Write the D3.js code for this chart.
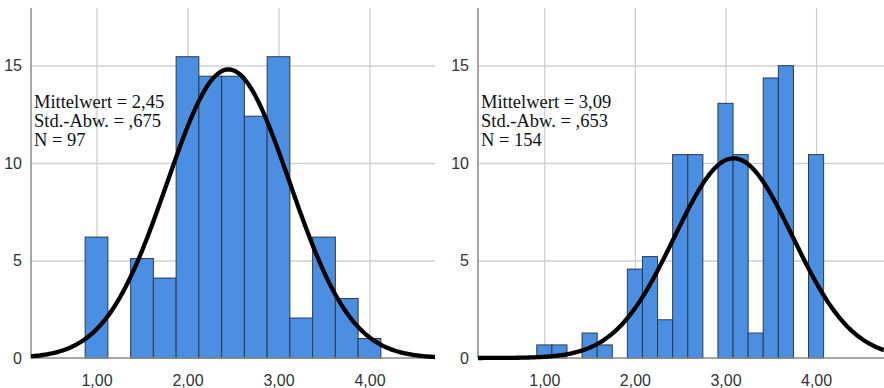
<!DOCTYPE html>
<html>
<head>
<meta charset="utf-8">
<script src="https://d3js.org/d3.v7.min.js"></script>
<style>
  body { margin: 0; background: #fff; }
  .tick text { font-family: "Liberation Sans", Arial, sans-serif; font-size: 16px; fill: #333; }
  .grid line { stroke: #cfcfcf; stroke-width: 1.3; }
  .grid .domain { display: none; }
  .stats { font-family: "Liberation Serif", "Times New Roman", serif; font-size: 18.5px; fill: #111; }
</style>
</head>
<body>
<svg id="chart" width="884" height="388"></svg>
<script>
// left histogram
var leftCenters = [1.00, 1.50, 1.75, 2.00, 2.25, 2.50, 2.75, 3.00, 3.25, 3.50, 3.75, 4.00];
var leftCounts  = [6.2, 5.1, 4.1, 15.45, 14.45, 14.45, 12.4, 15.45, 2.05, 6.2, 3.05, 1.0];
var leftBinWidth = 0.25;
var leftStats = ["Mittelwert = 2,45", "Std.-Abw. = ,675", "N = 97"];
var leftMean = 2.45, leftSd = 0.675, leftPeak = 14.8;

// right histogram
var rightCenters = [1.00, 1.167, 1.50, 1.667, 2.00, 2.167, 2.333, 2.50, 2.667, 3.00, 3.167, 3.333, 3.50, 3.667, 4.00];
var rightCounts  = [0.67, 0.67, 1.28, 0.67, 4.56, 5.2, 1.96, 10.43, 10.43, 13.06, 10.43, 1.28, 14.36, 14.99, 10.43];
var rightBinWidth = 1 / 6;
var rightStats = ["Mittelwert = 3,09", "Std.-Abw. = ,653", "N = 154"];
var rightMean = 3.09, rightSd = 0.653, rightPeak = 10.24;

var yTicks = [0, 5, 10, 15];
var xTicks = [1, 2, 3, 4];

var svg = d3.select("#chart");
var fmt = function(d) { return d3.format(".2f")(d).replace(".", ","); };

function drawPanel(left, right, xDomain, centers, counts, binW, stats, mean, sd, peak) {
  var x = d3.scaleLinear().domain(xDomain).range([left, right]);
  var y = d3.scaleLinear().domain([0, 15]).range([358, 65.5]);
  var top = y(17.95);

  var g = svg.append("g");

  // grid
  g.append("g").attr("class", "grid")
    .attr("transform", "translate(0," + 358 + ")")
    .call(d3.axisBottom(x).tickValues(xTicks).tickSize(-(358 - top)).tickFormat(""));
  g.append("g").attr("class", "grid")
    .attr("transform", "translate(" + left + ",0)")
    .call(d3.axisLeft(y).tickValues(yTicks.slice(1)).tickSize(-(right - left)).tickFormat(""));

  // bars
  g.selectAll("rect.bar").data(centers).enter().append("rect")
    .attr("class", "bar")
    .attr("x", function(d) { return x(d - binW / 2); })
    .attr("width", function(d) { return x(d + binW / 2) - x(d - binW / 2); })
    .attr("y", function(d, i) { return y(counts[i]); })
    .attr("height", function(d, i) { return y(0) - y(counts[i]); })
    .attr("fill", "#4b8fe2")
    .attr("stroke", "#2b3a4e")
    .attr("stroke-width", 1);

  // axis lines
  g.append("line").attr("x1", left).attr("x2", right).attr("y1", 358).attr("y2", 358)
    .attr("stroke", "#8a8a8a").attr("stroke-width", 1.5);
  g.append("line").attr("x1", left).attr("x2", left).attr("y1", top).attr("y2", 358)
    .attr("stroke", "#8a8a8a").attr("stroke-width", 1.5);

  // normal curve
  var pts = d3.range(0, 201).map(function(i) {
    var v = xDomain[0] + (xDomain[1] - xDomain[0]) * i / 200;
    var z = (v - mean) / sd;
    return [v, peak * Math.exp(-0.5 * z * z)];
  });
  g.append("path").datum(pts)
    .attr("fill", "none").attr("stroke", "#000").attr("stroke-width", 4.3)
    .attr("d", d3.line().x(function(d) { return x(d[0]); }).y(function(d) { return y(d[1]); }));

  // tick labels
  var ya = g.append("g").attr("transform", "translate(" + (left - 9) + ",0)")
    .call(d3.axisLeft(y).tickValues(yTicks).tickSize(0).tickPadding(0));
  ya.select(".domain").remove();
  var xa = g.append("g").attr("transform", "translate(0,375)")
    .call(d3.axisBottom(x).tickValues(xTicks).tickSize(0).tickPadding(0).tickFormat(fmt));
  xa.select(".domain").remove();

  // stats text
  g.selectAll("text.stats").data(stats).enter().append("text")
    .attr("class", "stats")
    .attr("x", left + 3)
    .attr("y", function(d, i) { return 108 + i * 19; })
    .text(function(d) { return d; });
}

drawPanel(31, 435, [0.28, 4.72], leftCenters, leftCounts, leftBinWidth, leftStats, leftMean, leftSd, leftPeak);
drawPanel(478, 884, [0.268, 4.75], rightCenters, rightCounts, rightBinWidth, rightStats, rightMean, rightSd, rightPeak);
</script>
</body>
</html>
